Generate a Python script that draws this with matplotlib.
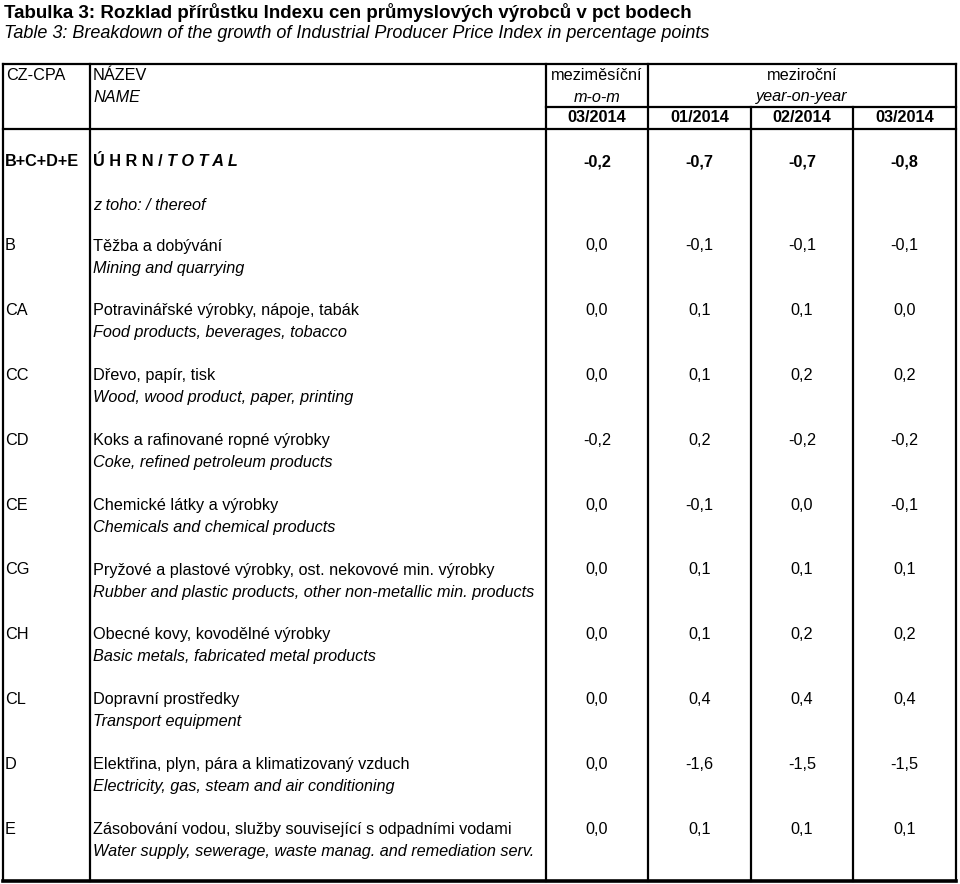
import matplotlib
matplotlib.use("agg")
import matplotlib.pyplot as plt
from matplotlib import font_manager

# table content
title_cz = "Tabulka 3: Rozklad přírůstku Indexu cen průmyslových výrobců v pct bodech"
title_en = "Table 3: Breakdown of the growth of Industrial Producer Price Index in percentage points"

codes = ["B", "CA", "CC", "CD", "CE", "CG", "CH", "CL", "D", "E"]
names_cz = ["Těžba a dobývání",
            "Potravinářské výrobky, nápoje, tabák",
            "Dřevo, papír, tisk",
            "Koks a rafinované ropné výrobky",
            "Chemické látky a výrobky",
            "Pryžové a plastové výrobky, ost. nekovové min. výrobky",
            "Obecné kovy, kovodělné výrobky",
            "Dopravní prostředky",
            "Elektřina, plyn, pára a klimatizovaný vzduch",
            "Zásobování vodou, služby související s odpadními vodami"]
names_en = ["Mining and quarrying",
            "Food products, beverages, tobacco",
            "Wood, wood product, paper, printing",
            "Coke, refined petroleum products",
            "Chemicals and chemical products",
            "Rubber and plastic products, other non-metallic min. products",
            "Basic metals, fabricated metal products",
            "Transport equipment",
            "Electricity, gas, steam and air conditioning",
            "Water supply, sewerage, waste manag. and remediation serv."]
mom_mar = ["0,0", "0,0", "0,0", "-0,2", "0,0", "0,0", "0,0", "0,0", "0,0", "0,0"]
yoy_jan = ["-0,1", "0,1", "0,1", "0,2", "-0,1", "0,1", "0,1", "0,4", "-1,6", "0,1"]
yoy_feb = ["-0,1", "0,1", "0,2", "-0,2", "0,0", "0,1", "0,2", "0,4", "-1,5", "0,1"]
yoy_mar = ["-0,1", "0,0", "0,2", "-0,2", "-0,1", "0,1", "0,2", "0,4", "-1,5", "0,1"]

total_code = "B+C+D+E"
total_vals = ["-0,2", "-0,7", "-0,7", "-0,8"]
periods = ["03/2014", "01/2014", "02/2014", "03/2014"]

installed = {f.name for f in font_manager.fontManager.ttflist}
narrow = "Liberation Sans Narrow" if "Liberation Sans Narrow" in installed else "Liberation Sans"
plt.rcParams['font.family'] = ["Liberation Sans", "DejaVu Sans"]

W, H = 960, 884
fig = plt.figure(figsize=(W / 100, H / 100), dpi=100)
ax = fig.add_axes([0, 0, 1, 1])
ax.set_xlim(0, W)
ax.set_ylim(H, 0)
ax.axis("off")

fs = 11.7
col_x = [3, 90, 546, 648, 751, 853, 956]
num_cx = [(col_x[i] + col_x[i + 1]) / 2 for i in range(2, 6)]

# titles
ax.text(4, 13, title_cz, fontsize=13.5, fontweight="bold", family=[narrow, "DejaVu Sans"], va="center")
ax.text(4, 33, title_en, fontsize=13.0, style="italic", family=[narrow, "DejaVu Sans"], va="center")

# grid lines
lw = 1.6
top, mid, hdr, bot = 64, 107, 129, 881
ax.plot([col_x[0], col_x[-1]], [top, top], color="black", lw=lw)
ax.plot([col_x[2], col_x[-1]], [mid, mid], color="black", lw=lw)
ax.plot([col_x[0], col_x[-1]], [hdr, hdr], color="black", lw=lw)
ax.plot([col_x[0], col_x[-1]], [bot, bot], color="black", lw=2.6)
for i, x in enumerate(col_x):
    y0 = mid if i in (4, 5) else top
    ax.plot([x, x], [y0, bot], color="black", lw=lw)

# header
ax.text(6, 76, "CZ-CPA", fontsize=fs, va="center")
ax.text(93, 76, "NÁZEV", fontsize=fs, va="center")
ax.text(93, 97, "NAME", fontsize=fs, style="italic", va="center")
ax.text(num_cx[0], 76, "meziměsíční", fontsize=fs, ha="center", va="center")
ax.text(num_cx[0], 97, "m-o-m", fontsize=fs, style="italic", ha="center", va="center")
yoy_c = (col_x[3] + col_x[6]) / 2
ax.text(yoy_c, 76, "meziroční", fontsize=fs, ha="center", va="center")
ax.text(yoy_c, 97, "year-on-year", fontsize=fs, style="italic", ha="center", va="center")
for cx, p in zip(num_cx, periods):
    ax.text(cx, 118, p, fontsize=fs, fontweight="bold", ha="center", va="center")

# total row
ax.text(5, 162, total_code, fontsize=fs, fontweight="bold", va="center")
t1 = ax.text(93, 162, "Ú H R N / ", fontsize=fs, fontweight="bold", va="center")
fig.canvas.draw()
bb = t1.get_window_extent().transformed(ax.transData.inverted())
ax.text(bb.x1, 162, "T O T A L", fontsize=fs, fontweight="bold", style="italic", va="center")
for cx, v in zip(num_cx, total_vals):
    ax.text(cx, 162, v, fontsize=fs, fontweight="bold", ha="center", va="center")

ax.text(93, 205, "z toho: / thereof", fontsize=fs, style="italic", va="center")

# body rows
y_first, step = 246, 64.8
for i, code in enumerate(codes):
    y = y_first + i * step
    ax.text(5, y, code, fontsize=fs, va="center")
    ax.text(93, y, names_cz[i], fontsize=fs, va="center")
    ax.text(93, y + 22, names_en[i], fontsize=fs, style="italic", va="center")
    for cx, v in zip(num_cx, [mom_mar[i], yoy_jan[i], yoy_feb[i], yoy_mar[i]]):
        ax.text(cx, y, v, fontsize=fs, ha="center", va="center")

fig.savefig("out.png", dpi=100)
